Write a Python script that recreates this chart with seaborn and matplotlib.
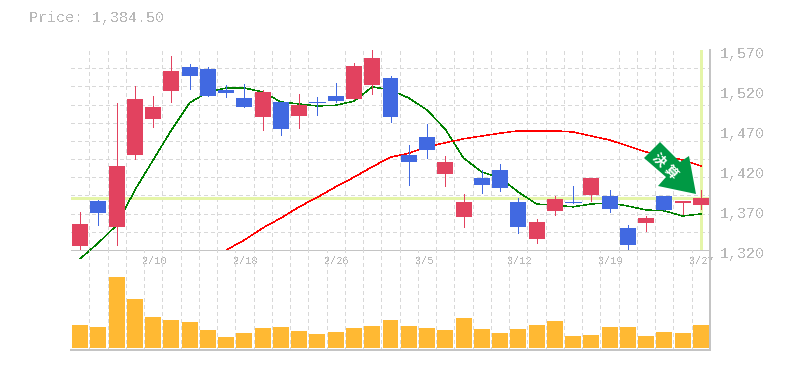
import numpy as np
import pandas as pd
import matplotlib
matplotlib.use('Agg')
import matplotlib.pyplot as plt
import seaborn as sns
from matplotlib.patches import Polygon
from matplotlib.transforms import Affine2D, ScaledTranslation

# candle values
highs = [1367.5, 1382.5, 1504, 1525, 1512.5, 1562.5, 1552.5, 1549, 1526, 1527.5, 1520, 1505, 1515, 1511, 1529, 1554, 1570, 1537.5,
         1451, 1477.5, 1437.5, 1390, 1420, 1427.5, 1385, 1359, 1387.5, 1400, 1410, 1395, 1351, 1362.5, 1387.5, 1381, 1395]
tops = [1352.5, 1381, 1425, 1509, 1499, 1544, 1549, 1546, 1520, 1510, 1517.5, 1505, 1501, 1505, 1512.5, 1550, 1560, 1535,
        1439, 1461, 1430, 1380, 1410, 1420, 1380, 1355, 1384, 1380, 1410, 1387.5, 1347.5, 1360, 1387.5, 1381, 1385]
bottoms = [1325, 1366, 1349, 1439, 1484, 1519, 1537.5, 1512.5, 1516, 1499, 1486, 1471, 1487.5, 1505, 1506, 1509, 1526, 1486,
           1430, 1445, 1415, 1361, 1401, 1397.5, 1349, 1334, 1369, 1380, 1389, 1371, 1326, 1354, 1370, 1379, 1376]
lows = [1321, 1351, 1326, 1434, 1474, 1505, 1521, 1512.5, 1511, 1499, 1470, 1464, 1472.5, 1489, 1505, 1509, 1515, 1480,
        1401, 1435, 1400, 1349, 1391, 1394, 1341, 1329, 1364, 1379, 1381, 1367.5, 1320, 1344, 1370, 1365, 1371]
rising = [1, 0, 1, 1, 1, 1, 0, 0, 0, 0, 1, 0, 1, 0, 0, 1, 1, 0,
          0, 0, 1, 1, 0, 0, 0, 1, 1, 0, 1, 0, 0, 1, 0, 1, 1]
volume = [23, 21, 71, 49, 31, 28, 26, 18, 11, 15, 20, 21, 17, 14, 16, 20, 22, 28,
          22, 20, 18, 30, 19, 15, 19, 23, 27, 12, 13, 21, 21, 12, 16, 15, 23]
ma_short = [1309, 1329, 1351, 1395, 1432.5, 1470, 1504, 1517.5, 1522.5, 1522.5, 1517.5, 1505, 1502.5, 1500, 1501, 1506, 1524, 1520,
            1510, 1495, 1471, 1435, 1417.5, 1410, 1392.5, 1377.5, 1376, 1374, 1377.5, 1379, 1375, 1370, 1369, 1362.5, 1365]
ma_long = [1320, 1332.5, 1347.5, 1360, 1374, 1386, 1399, 1411, 1424, 1436, 1441, 1449, 1454, 1459, 1462.5, 1466, 1469, 1469, 1469,
           1467.5, 1462.5, 1457.5, 1450, 1442.5, 1437.5, 1432.5, 1425]
ma_long_start = 8
last_price = 1384.50
price_ticks = [1320, 1370, 1420, 1470, 1520, 1570]
date_idx = [4, 9, 14, 19, 24, 29, 34]
date_labels = ['2/10', '2/18', '2/26', '3/5', '3/12', '3/19', '3/27']

sns.set_style('white')
plt.rcParams['font.family'] = ['Liberation Mono', 'DejaVu Sans']
plt.rcParams['text.antialiased'] = False
plt.rcParams['lines.antialiased'] = False
plt.rcParams['patch.antialiased'] = False

RED = '#e2425f'
BLUE = '#4169e1'
ORANGE = '#ffb933'
TXT = '#b8b8b8'
GRID = '#d8d8d8'
MARK = '#e5f5a8'
W, H = 785, 370
px = 72 / 100

fig = plt.figure(figsize=(W / 100, H / 100), dpi=100)
ax1 = fig.add_axes([71 / W, (H - 250) / H, 639 / W, 200 / H])
ax2 = fig.add_axes([71 / W, (H - 350) / H, 639 / W, 100 / H])
ax2.patch.set_visible(False)

days = np.arange(len(volume))
prices = pd.DataFrame({'day': days, 'high': highs, 'top': tops, 'bottom': bottoms, 'low': lows, 'rising': rising,
                       'volume': volume, 'ma_short': ma_short})
long_df = pd.DataFrame({'day': days[ma_long_start:], 'ma_long': ma_long[:len(days) - ma_long_start]})

# marker lines for the last price and day
ax1.axhline(last_price, color=MARK, lw=3 * px, zorder=2)
ax1.axvline(days[-1], color=MARK, lw=3 * px, zorder=2, ymin=0.01)

sns.lineplot(data=prices, x='day', y='ma_short', color='#008000', lw=0.45 * px, ax=ax1, zorder=3, clip_on=False)
sns.lineplot(data=long_df, x='day', y='ma_long', color='#ff0000', lw=0.45 * px, ax=ax1, zorder=3)

cols = [RED if r else BLUE for r in rising]
ax1.vlines(days, lows, highs, colors=cols, lw=0.9 * px, zorder=4)
ax1.bar(days, np.array(tops) - np.array(bottoms), bottom=bottoms, width=0.876, color=cols, linewidth=0, zorder=4)
for d, t, b, c in zip(days, tops, bottoms, cols):
    if t == b:
        ax1.hlines(t, d - 0.438, d + 0.438, colors=c, lw=0.9 * px, zorder=4)

sns.barplot(data=prices, x='day', y='volume', color=ORANGE, saturation=1, width=0.876, linewidth=0,
            native_scale=True, ax=ax2, zorder=3)

for ax in (ax1, ax2):
    ax.set_xlim(-0.5, len(days) - 0.5)
    ax.set_xlabel('')
    ax.set_ylabel('')
    ax.set_xticks(days[:-1] + 0.5, minor=True)
    ax.grid(True, which='minor', axis='x', color=GRID, ls=(0, (3, 3)), lw=1 * px)
    ax.tick_params(which='both', length=0)
    ax.set_axisbelow(True)
    for s in ax.spines.values():
        s.set_visible(False)
    ax.spines['right'].set_visible(True)
    ax.spines['right'].set_color('#c4c4c4')
    ax.spines['bottom'].set_visible(True)
    ax.spines['bottom'].set_color('#c4c4c4')

ax1.spines['bottom'].set_linewidth(1 * px)
ax2.spines['bottom'].set_linewidth(2 * px)
ax1.spines['right'].set_linewidth(1.5 * px)
ax2.spines['right'].set_linewidth(1.5 * px)

ax1.set_ylim(price_ticks[0], price_ticks[-1])
ax1.yaxis.tick_right()
ax1.set_yticks(price_ticks)
ax1.set_yticklabels([f'{p:,}' for p in price_ticks], fontsize=10.8, color=TXT)
ax1.set_yticks(np.linspace(price_ticks[0], price_ticks[-1], 12), minor=True)
ax1.grid(True, which='minor', axis='y', color=GRID, ls=(0, (3, 3)), lw=1 * px)
ax1.grid(False, which='major')
ax1.tick_params(axis='y', pad=7)
for lab in ax1.get_yticklabels():
    lab.set_transform(lab.get_transform() + ScaledTranslation(0, -1.5 / 72, fig.dpi_scale_trans))

ax1.set_xticks(np.array(date_idx) - 0.5)
ax1.set_xticklabels(date_labels, fontsize=7.4, color=TXT, ha='left')
ax1.tick_params(axis='x', pad=4.5)
for lab in ax1.get_xticklabels():
    lab.set_transform(lab.get_transform() + ScaledTranslation(-1.5 / 72, 0, fig.dpi_scale_trans))

ax2.set_ylim(-2, 98)
ax2.set_yticks([])
ax2.set_xticks([])

# arrow badge, placed in figure pixels
to_px = Affine2D().scale(1, -1).translate(0, H)
badge = Polygon([(644, 158), (660, 142), (680, 162), (689, 156), (696, 194), (658, 186), (666, 177)],
                closed=True, facecolor='#009944', edgecolor='none', antialiased=True, transform=to_px, zorder=10)
fig.add_artist(badge)
for ch, bx, by in (('決', 659, 160), ('算', 671, 172)):
    t = fig.text(bx / W, (H - by) / H, ch, family=['Noto Sans CJK JP', 'DejaVu Sans'], weight='bold', fontsize=9.5,
                 color='white', rotation=-45, ha='center', va='center', zorder=11)
    t.set_antialiased(True)

fig.text(29 / W, (H - 18) / H, f'Price: {last_price:,.2f}', fontsize=10.8, color=TXT, ha='left', va='center')

fig.savefig('out.png', dpi=100)
